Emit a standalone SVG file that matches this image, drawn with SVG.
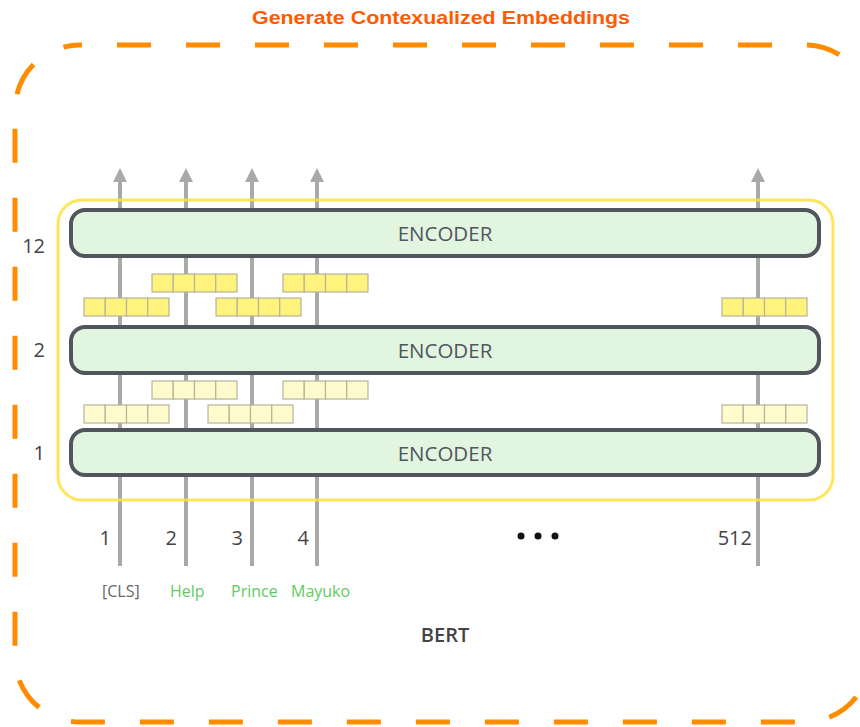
<svg xmlns="http://www.w3.org/2000/svg" width="860" height="727" viewBox="0 0 860 727">
<style>
.enc rect{fill:#E2F5E1;stroke:#50565C;stroke-width:4}
.enc text{font-family:"Open Sans",sans-serif;font-size:20.5px;fill:#50565C;text-anchor:middle}
.lyr{font-family:"Open Sans",sans-serif;font-size:20px;fill:#444;text-anchor:end}
.num{font-family:"Open Sans",sans-serif;font-size:20px;fill:#444;text-anchor:end}
.tok{font-family:"Open Sans",sans-serif;font-size:16px;fill:#5FCB5F}
.conn line{stroke:#A8AAA8;stroke-width:4}
.v1{fill:#FFF37D;stroke:#B5B49A;stroke-width:1.2}
.v2{fill:#FFFBCC;stroke:#B5B49A;stroke-width:1.2}
</style>
<defs>
<marker id="ah" viewBox="0 0 14 14" markerWidth="14" markerHeight="14" refX="0" refY="7" orient="auto" markerUnits="userSpaceOnUse">
<path d="M0,0 L14,7 L0,14 Z" fill="#A8AAA8" stroke="none"/>
</marker>
<g id="vec">
<rect x="0" y="0" width="21.25" height="18"/>
<rect x="21.25" y="0" width="21.25" height="18"/>
<rect x="42.5" y="0" width="21.25" height="18"/>
<rect x="63.75" y="0" width="21.25" height="18"/>
</g>
</defs>
<rect x="0" y="0" width="860" height="727" fill="#fff"/>
<text x="441" y="24" font-family="'Liberation Sans',Arial,sans-serif" font-weight="bold" font-size="19" fill="#FF5A00" text-anchor="middle" textLength="378" lengthAdjust="spacingAndGlyphs">Generate Contexualized Embeddings</text>
<rect id="outer" x="15" y="45" width="855" height="677" rx="65" ry="65" fill="none" stroke="#FF8C00" stroke-width="5" stroke-dasharray="34 35" stroke-dashoffset="32"/>
<g id="connectors" class="conn">
<line x1="120" y1="566" x2="120" y2="182" marker-end="url(#ah)"/>
<line x1="186" y1="566" x2="186" y2="182" marker-end="url(#ah)"/>
<line x1="252" y1="566" x2="252" y2="182" marker-end="url(#ah)"/>
<line x1="317" y1="566" x2="317" y2="182" marker-end="url(#ah)"/>
<line x1="758" y1="566" x2="758" y2="182" marker-end="url(#ah)"/>
</g>
<rect id="bert-box" x="58" y="200" width="775" height="300" rx="24" ry="24" fill="none" stroke="#FFE13D" stroke-width="3" opacity="0.85"/>
<g id="encoder12" class="enc"><rect x="71" y="210" width="748" height="46" rx="14" ry="14"/><text x="445" y="241">ENCODER</text></g>
<g id="encoder2" class="enc"><rect x="71" y="327" width="748" height="46" rx="14" ry="14"/><text x="445" y="358">ENCODER</text></g>
<g id="encoder1" class="enc"><rect x="71" y="430" width="748" height="45" rx="14" ry="14"/><text x="445" y="461">ENCODER</text></g>
<g id="vectors-top" class="v1">
<use href="#vec" x="152" y="274"/>
<use href="#vec" x="283" y="274"/>
<use href="#vec" x="84" y="298"/>
<use href="#vec" x="216" y="298"/>
<use href="#vec" x="722" y="298"/>
</g>
<g id="vectors-bottom" class="v2">
<use href="#vec" x="152" y="381"/>
<use href="#vec" x="283" y="381"/>
<use href="#vec" x="84" y="405"/>
<use href="#vec" x="208" y="405"/>
<use href="#vec" x="722" y="405"/>
</g>
<g id="layer-labels">
<text class="lyr" x="45" y="253">12</text>
<text class="lyr" x="45" y="357">2</text>
<text class="lyr" x="45" y="460">1</text>
</g>
<g id="positions">
<text class="num" x="111" y="545">1</text>
<text class="num" x="177" y="545">2</text>
<text class="num" x="243" y="545">3</text>
<text class="num" x="309" y="545">4</text>
<text class="num" x="752" y="545">512</text>
<circle cx="521" cy="536" r="3.5" fill="#111"/>
<circle cx="538" cy="536" r="3.5" fill="#111"/>
<circle cx="555" cy="536" r="3.5" fill="#111"/>
</g>
<g id="tokens">
<text class="tok" x="102" y="597" style="fill:#666">[CLS]</text>
<text class="tok" x="170" y="597">Help</text>
<text class="tok" x="231" y="597">Prince</text>
<text class="tok" x="291" y="597">Mayuko</text>
</g>
<text id="bert" x="445" y="642" font-family="'Open Sans',sans-serif" font-weight="600" font-size="20" fill="#444" text-anchor="middle">BERT</text>
</svg>
